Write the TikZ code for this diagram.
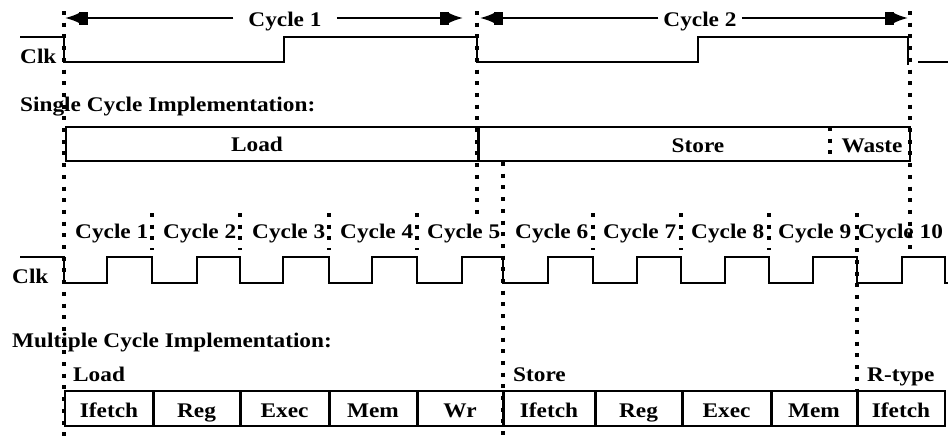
\documentclass[tikz,border=0pt]{standalone}
\usepackage{fontspec}
\setmainfont{Liberation Serif}[FakeStretch=1.12]
\usetikzlibrary{arrows.meta}
\begin{document}
\begin{tikzpicture}[x=1pt,y=-1pt,
  lbl/.style={font=\fontsize{20.8}{24}\selectfont\bfseries, inner sep=0pt, anchor=base},
  lblw/.style={lbl, anchor=base west},
  wave/.style={line width=1.6pt},
  dots/.style={line width=3.6pt, dash pattern=on 4pt off 7.7pt},
  frame/.style={line width=1.6pt},
  divider/.style={line width=3pt},
  cyc/.style={-{Rectangle[length=9pt,width=13pt,sep=0pt]Latex[length=14pt,width=10pt]}, line width=1.6pt}]
\useasboundingbox[fill=white] (0,0) rectangle (948,439);

% ---------- top: single cycle ----------
\coordinate (c1l) at (65,18);
\coordinate (c1r) at (463,18);
\coordinate (c2l) at (480,18);
\coordinate (c2r) at (908,18);
\node[lbl, inner xsep=15pt] (cy1) at (285,27) {Cycle 1};
\node[lbl, inner xsep=5pt] (cy2) at (700,26) {Cycle 2};
\draw[cyc] (c1l -| cy1.west) -- (c1l);
\draw[cyc] (c1r -| cy1.east) -- (c1r);
\draw[cyc] (c2l -| cy2.west) -- (c2l);
\draw[cyc] (c2r -| cy2.east) -- (c2r);

\node[lblw] (clk1) at (20,63) {Clk};
\draw[wave] (20,37) -- (64,37) -- (64,62) -- (284,62) -- (284,37) -- (477,37) -- (477,62)
  -- (698,62) -- (698,37) -- (908,37) -- (908,65);
\draw[wave] (918,62) -- (948,62);

\node[lblw] (sci) at (20,111) {Single Cycle Implementation:};

\draw[frame] (66,127) rectangle (910,161);
\draw[divider] (478,127) -- (478,161);
\node[lbl] (load1) at (257,151.5) {Load};
\node[lbl] (store1) at (698,152) {Store};
\node[lbl] (waste) at (872,152) {Waste};

% ---------- middle: multiple cycle clock ----------
\node[lblw] (k1) at (75,238) {Cycle 1};
\node[lblw] (k2) at (163,238) {Cycle 2};
\node[lblw] (k3) at (252,238) {Cycle 3};
\node[lblw] (k4) at (340,238) {Cycle 4};
\node[lblw] (k5) at (427,238) {Cycle 5};
\node[lblw] (k6) at (515,238) {Cycle 6};
\node[lblw] (k7) at (603,238) {Cycle 7};
\node[lblw] (k8) at (691,238) {Cycle 8};
\node[lblw] (k9) at (778,238) {Cycle 9};
\node[lblw] (k10) at (858,238) {Cycle 10};

\node[lblw] (clk2) at (12,283) {Clk};
\draw[wave] (20,257) -- (64,257) -- (64,283) -- (107,283) -- (107,257)
  -- (152,257) -- (152,283) -- (197,283) -- (197,257)
  -- (240,257) -- (240,283) -- (283,283) -- (283,257)
  -- (329,257) -- (329,283) -- (372,283) -- (372,257)
  -- (417,257) -- (417,283) -- (462,283) -- (462,257)
  -- (503,257) -- (503,283) -- (548,283) -- (548,257)
  -- (593,257) -- (593,283) -- (637,283) -- (637,257)
  -- (681,257) -- (681,283) -- (725,283) -- (725,257)
  -- (769,257) -- (769,283) -- (813,283) -- (813,257)
  -- (857,257) -- (857,283) -- (902,283) -- (902,257)
  -- (945,257) -- (945,283) -- (948,283);

% ---------- bottom: multiple cycle implementation ----------
\node[lblw] (mci) at (12,347) {Multiple Cycle Implementation:};
\node[lblw] (load2) at (73,381) {Load};
\node[lblw] (store2) at (513,381) {Store};
\node[lblw] (rtype) at (867,381) {R-type};

\draw[frame] (65,391) rectangle (945,426);
\foreach \x in {153,240,329,417,503,595,682,771,857}
  \draw[divider] (\x,391) -- (\x,426);
\node[lbl] (s1) at (109,417) {Ifetch};
\node[lbl] (s2) at (196.5,417) {Reg};
\node[lbl] (s3) at (284.5,417) {Exec};
\node[lbl] (s4) at (373,417) {Mem};
\node[lbl] (s5) at (460,417) {Wr};
\node[lbl] (s6) at (549,417) {Ifetch};
\node[lbl] (s7) at (638.5,417) {Reg};
\node[lbl] (s8) at (726.5,417) {Exec};
\node[lbl] (s9) at (814,417) {Mem};
\node[lbl] (s10) at (901,417) {Ifetch};

% ---------- dotted guide lines ----------
\draw[dots] (64,11) -- (64,439);
\draw[dots] (477,11) -- (477,215);
\draw[dots] (910,11) -- (910,250);
\draw[dots] (503,162) -- (503,439);
\draw[dots] (857,213) -- (857,392);
\draw[dots] (830,127) -- (830,161);
\foreach \x in {152,240,329,417,593,681,769}
  \draw[dots] (\x,213) -- (\x,250);
\end{tikzpicture}
\end{document}
